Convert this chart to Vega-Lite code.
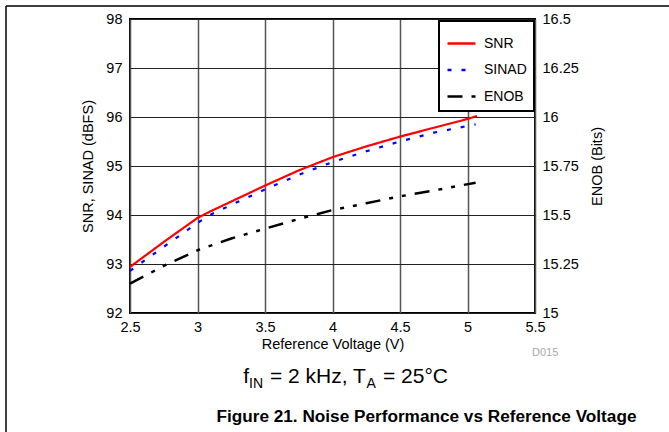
{
  "$schema": "https://vega.github.io/schema/vega-lite/v6.json",
  "width": 405,
  "height": 294,
  "autosize": "none",
  "padding": {"left": 130, "top": 19, "right": 134, "bottom": 119},
  "background": "white",
  "config": {
    "font": "Liberation Sans",
    "view": {"stroke": "black", "strokeWidth": 2},
    "legend": {"strokeWidth": 2},
    "axis": {
      "labelFont": "Liberation Sans",
      "labelFontSize": 14.5,
      "labelColor": "black",
      "labelFlush": false,
      "titleFont": "Liberation Sans",
      "titleFontSize": 14.5,
      "titleFontWeight": "normal",
      "titleColor": "black",
      "domain": false,
      "ticks": false,
      "gridColor": "#222",
      "gridWidth": 1.2,
      "gridOpacity": 1
    }
  },
  "datasets": {
    "dyn": [
      {"vref": 2.5, "series": "SNR", "value": 92.94},
      {"vref": 2.75, "series": "SNR", "value": 93.45},
      {"vref": 3.0, "series": "SNR", "value": 93.94},
      {"vref": 3.1, "series": "SNR", "value": 94.08},
      {"vref": 3.3, "series": "SNR", "value": 94.34},
      {"vref": 3.5, "series": "SNR", "value": 94.6},
      {"vref": 3.75, "series": "SNR", "value": 94.91},
      {"vref": 4.0, "series": "SNR", "value": 95.18},
      {"vref": 4.25, "series": "SNR", "value": 95.4},
      {"vref": 4.5, "series": "SNR", "value": 95.6},
      {"vref": 4.75, "series": "SNR", "value": 95.78},
      {"vref": 5.0, "series": "SNR", "value": 95.96},
      {"vref": 5.07, "series": "SNR", "value": 96.02},
      {"vref": 2.5, "series": "SINAD", "value": 92.86},
      {"vref": 2.75, "series": "SINAD", "value": 93.35},
      {"vref": 3.0, "series": "SINAD", "value": 93.84},
      {"vref": 3.1, "series": "SINAD", "value": 94.01},
      {"vref": 3.3, "series": "SINAD", "value": 94.27},
      {"vref": 3.5, "series": "SINAD", "value": 94.52},
      {"vref": 3.75, "series": "SINAD", "value": 94.82},
      {"vref": 4.0, "series": "SINAD", "value": 95.08},
      {"vref": 4.25, "series": "SINAD", "value": 95.3},
      {"vref": 4.5, "series": "SINAD", "value": 95.5},
      {"vref": 4.75, "series": "SINAD", "value": 95.68},
      {"vref": 5.06, "series": "SINAD", "value": 95.85}
    ],
    "enob": [
      {"vref": 2.5, "series": "ENOB", "value": 15.15},
      {"vref": 2.75, "series": "ENOB", "value": 15.24},
      {"vref": 3.0, "series": "ENOB", "value": 15.32},
      {"vref": 3.25, "series": "ENOB", "value": 15.38},
      {"vref": 3.5, "series": "ENOB", "value": 15.43},
      {"vref": 3.75, "series": "ENOB", "value": 15.48},
      {"vref": 4.0, "series": "ENOB", "value": 15.525},
      {"vref": 4.25, "series": "ENOB", "value": 15.56},
      {"vref": 4.5, "series": "ENOB", "value": 15.595},
      {"vref": 4.75, "series": "ENOB", "value": 15.625},
      {"vref": 5.06, "series": "ENOB", "value": 15.665}
    ],
    "one": [{}]
  },
  "layer": [
    {
      "layer": [
        {
          "data": {"name": "dyn"},
          "mark": {"type": "line", "strokeWidth": 2.2},
          "encoding": {
            "x": {
              "field": "vref", "type": "quantitative",
              "scale": {"domain": [2.5, 5.5], "nice": false, "zero": false},
              "axis": {"title": "Reference Voltage (V)", "values": [2.5, 3, 3.5, 4, 4.5, 5, 5.5], "format": ".2~g", "labelPadding": 7, "titlePadding": 4, "gridColor": "#555", "gridWidth": 1.5}
            },
            "y": {
              "field": "value", "type": "quantitative",
              "scale": {"domain": [92, 98], "nice": false, "zero": false},
              "axis": {"title": "SNR, SINAD (dBFS)", "values": [92, 93, 94, 95, 96, 97, 98], "format": ".2~g", "labelPadding": 8, "titlePadding": 10}
            },
            "color": {
              "field": "series", "type": "nominal",
              "scale": {"domain": ["SNR", "SINAD", "ENOB"], "range": ["#ff0000", "#0000ff", "#000000"]},
              "legend": {
                "title": null, "orient": "none", "legendX": 309, "legendY": 2,
                "strokeColor": "black", "fillColor": "white", "padding": 7,
                "symbolType": "stroke", "symbolSize": 784, "symbolStrokeWidth": 2.5,
                "labelFont": "Liberation Sans", "labelFontSize": 14, "labelColor": "black",
                "rowPadding": 3.5, "labelOffset": 7
              }
            },
            "strokeDash": {
              "field": "series", "type": "nominal",
              "scale": {"domain": ["SNR", "SINAD", "ENOB"], "range": [[1, 0], [4, 10], [15, 9, 4, 9, 4, 9]]},
              "legend": {"title": null}
            }
          }
        },
        {
          "data": {"name": "one"},
          "mark": {"type": "rule", "color": "black", "strokeWidth": 1.5},
          "encoding": {
            "x": {"datum": 1.5815, "type": "quantitative"},
            "y": {"datum": 98.265, "type": "quantitative"},
            "y2": {"datum": 89}
          }
        },
        {
          "data": {"name": "one"},
          "mark": {"type": "rule", "color": "black", "strokeWidth": 1.5},
          "encoding": {
            "x": {"datum": 1.5815, "type": "quantitative"},
            "x2": {"datum": 6.6},
            "y": {"datum": 98.265, "type": "quantitative"}
          }
        },
        {
          "data": {"name": "one"},
          "mark": {"type": "text", "text": "D015", "align": "left", "baseline": "alphabetic", "fontSize": 11, "color": "#aaaaaa", "font": "Liberation Sans"},
          "encoding": {
            "x": {"datum": 5.478, "type": "quantitative"},
            "y": {"datum": 91.12, "type": "quantitative"}
          }
        },
        {
          "data": {"name": "one"},
          "mark": {"type": "text", "text": "f", "align": "left", "baseline": "alphabetic", "fontSize": 21, "color": "black", "font": "Liberation Sans"},
          "encoding": {
            "x": {"datum": 3.339, "type": "quantitative"},
            "y": {"datum": 90.571, "type": "quantitative"}
          }
        },
        {
          "data": {"name": "one"},
          "mark": {"type": "text", "text": "IN", "align": "left", "baseline": "alphabetic", "fontSize": 14, "color": "black", "font": "Liberation Sans"},
          "encoding": {
            "x": {"datum": 3.3815, "type": "quantitative"},
            "y": {"datum": 90.469, "type": "quantitative"}
          }
        },
        {
          "data": {"name": "one"},
          "mark": {"type": "text", "text": "= 2 kHz, T", "align": "left", "baseline": "alphabetic", "fontSize": 21, "color": "black", "font": "Liberation Sans"},
          "encoding": {
            "x": {"datum": 3.537, "type": "quantitative"},
            "y": {"datum": 90.571, "type": "quantitative"}
          }
        },
        {
          "data": {"name": "one"},
          "mark": {"type": "text", "text": "A", "align": "left", "baseline": "alphabetic", "fontSize": 14, "color": "black", "font": "Liberation Sans"},
          "encoding": {
            "x": {"datum": 4.2519, "type": "quantitative"},
            "y": {"datum": 90.469, "type": "quantitative"}
          }
        },
        {
          "data": {"name": "one"},
          "mark": {"type": "text", "text": "= 25°C", "align": "left", "baseline": "alphabetic", "fontSize": 21, "color": "black", "font": "Liberation Sans"},
          "encoding": {
            "x": {"datum": 4.374, "type": "quantitative"},
            "y": {"datum": 90.571, "type": "quantitative"}
          }
        },
        {
          "data": {"name": "one"},
          "mark": {"type": "text", "text": "Figure 21. Noise Performance vs Reference Voltage", "align": "center", "baseline": "alphabetic", "fontSize": 17.2, "fontWeight": "bold", "color": "black", "font": "Liberation Sans"},
          "encoding": {
            "x": {"datum": 4.696, "type": "quantitative"},
            "y": {"datum": 89.78, "type": "quantitative"}
          }
        }
      ]
    },
    {
      "data": {"name": "enob"},
      "mark": {"type": "line", "strokeWidth": 2.5},
      "encoding": {
        "x": {"field": "vref", "type": "quantitative"},
        "y": {
          "field": "value", "type": "quantitative",
          "scale": {"domain": [15, 16.5], "nice": false, "zero": false},
          "axis": {"orient": "right", "title": "ENOB (Bits)", "titleAngle": 270, "titleBaseline": "top", "values": [15, 15.25, 15.5, 15.75, 16, 16.25, 16.5], "format": ".4~g", "grid": false, "labelPadding": 7, "titlePadding": 12}
        },
        "color": {"field": "series", "type": "nominal"},
        "strokeDash": {"field": "series", "type": "nominal"}
      }
    }
  ],
  "resolve": {"scale": {"y": "independent"}}
}
